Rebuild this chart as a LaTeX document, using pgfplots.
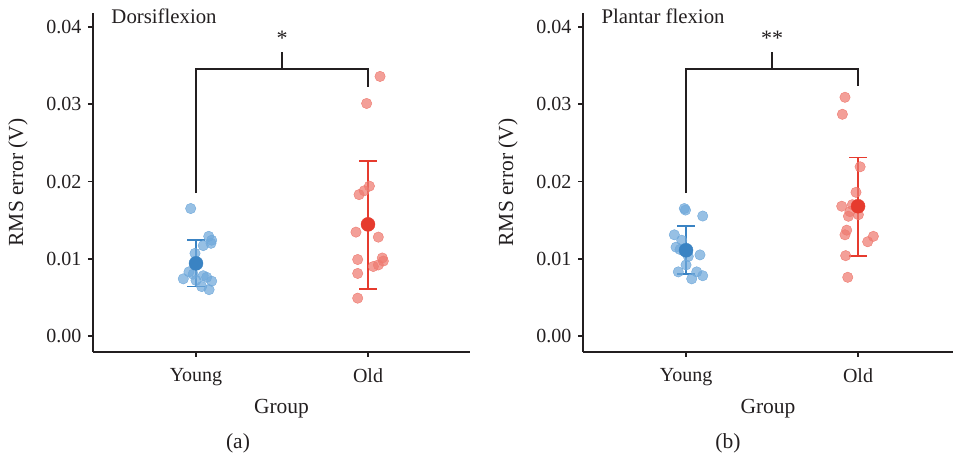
\documentclass[border=0pt]{standalone}
\usepackage{pgfplots}
\pgfplotsset{compat=1.18}
\usepackage{fontspec}
\setmainfont{Liberation Serif}
\definecolor{ylight}{HTML}{6FA8DA}
\definecolor{ydark}{HTML}{3A83C3}
\definecolor{olight}{HTML}{EE7A70}
\definecolor{odark}{HTML}{E63B2E}
\definecolor{txt}{HTML}{231F20}
\pgfplotsset{
  panel/.style={
    scale only axis, width=377pt, height=339pt,
    xmin=0.401, xmax=2.593, ymin=-0.00207, ymax=0.04181,
    axis x line*=bottom, axis y line*=left,
    axis line style={line width=1.8pt, txt},
    every tick/.style={line width=1.8pt, txt},
    tick align=outside, major tick length=5pt,
    xtick={1,2}, xticklabels={Young,Old},
    ytick={0,0.01,0.02,0.03,0.04},
    yticklabel style={/pgf/number format/fixed, /pgf/number format/fixed zerofill, /pgf/number format/precision=2, /pgf/number format/assume math mode=true},
    scaled y ticks=false,
    ticklabel style={font=\fontsize{20}{23}\selectfont, text=txt},
    xticklabel style={yshift=-8pt},
    yticklabel style={xshift=-3pt},
    label style={font=\fontsize{21.5}{25}\selectfont, text=txt},
    xlabel={Group}, ylabel={RMS error (V)},
    xlabel style={at={(axis description cs:0.5,0)}, anchor=center, yshift=-57pt},
    ylabel style={yshift=12pt},
    clip=false,
  },
  pts/.style={only marks, mark=*, mark size=5.2pt, mark options={draw=none, fill opacity=0.72}},
  mn/.style={only marks, mark=*, mark size=7pt, mark options={draw=none}},
  eb/.style={line width=1.8pt, no marks},
  br/.style={line width=1.8pt, txt, no marks},
}
\begin{document}
\begin{tikzpicture}[x=1pt,y=1pt]
\useasboundingbox (0,0) rectangle (953,460);
% ---------- panel (a)
\begin{axis}[panel, at={(93pt,108pt)}, anchor=south west]
\addplot[pts, ylight] coordinates {
(0.969,0.0165)(1.074,0.0129)(1.091,0.0124)(1.087,0.0120)(1.042,0.0117)
(0.994,0.0107)(0.959,0.0083)(0.926,0.0074)(1.042,0.0078)(1.062,0.0076)
(1.091,0.0071)(1.000,0.0072)(1.033,0.0064)(1.076,0.0060)(0.983,0.0080)};
\addplot[pts, olight] coordinates {
(2.070,0.0336)(1.992,0.0301)(2.008,0.0194)(1.978,0.0188)(1.948,0.0183)
(1.930,0.01345)(2.060,0.0128)(1.940,0.0099)(2.083,0.0101)(2.089,0.0097)
(2.060,0.0092)(2.031,0.0090)(1.940,0.0081)(1.940,0.0049)};
% error bars
\addplot[eb, ydark] coordinates {(1,0.0064)(1,0.0124)};
\addplot[eb, ydark] coordinates {(0.948,0.0124)(1.052,0.0124)};
\addplot[eb, ydark] coordinates {(0.948,0.0064)(1.052,0.0064)};
\addplot[eb, odark] coordinates {(2,0.0061)(2,0.0227)};
\addplot[eb, odark] coordinates {(1.948,0.0227)(2.052,0.0227)};
\addplot[eb, odark] coordinates {(1.948,0.0061)(2.052,0.0061)};
\addplot[mn, ydark] coordinates {(1,0.0094)};
\addplot[mn, odark] coordinates {(2,0.01445)};
% bracket
\addplot[br] coordinates {(1,0.0185)(1,0.03454)(2,0.03454)(2,0.0322)};
\addplot[br] coordinates {(1.5,0.03454)(1.5,0.0367)};
\node[font=\fontsize{22}{25}\selectfont, text=txt] at (axis cs:1.5,0.0385) {*};
\node[font=\fontsize{20.8}{24}\selectfont, text=txt, anchor=base west] at (axis cs:0.488,0.0404) {Dorsiflexion};
\end{axis}
% ---------- panel (b)
\begin{axis}[panel, width=370pt, xmax=2.552, at={(583pt,108pt)}, anchor=south west]
\addplot[pts, ylight] coordinates {
(0.990,0.0165)(0.997,0.0163)(1.097,0.01553)(0.932,0.0131)(0.975,0.0124)
(0.965,0.0112)(1.013,0.0103)(1.081,0.0105)(1.000,0.0092)(0.955,0.0083)
(1.062,0.0083)(1.097,0.0078)(1.033,0.0074)(0.942,0.0115)};
\addplot[pts, olight] coordinates {
(1.924,0.0309)(1.909,0.0287)(2.012,0.0219)(1.988,0.0186)(1.905,0.0168)
(1.967,0.0170)(1.953,0.0161)(2.002,0.0157)(1.944,0.0155)(1.934,0.0137)
(1.924,0.0131)(2.089,0.0129)(2.056,0.0122)(1.928,0.0104)(1.940,0.0076)};
\addplot[eb, ydark] coordinates {(1,0.0080)(1,0.01427)};
\addplot[eb, ydark] coordinates {(0.948,0.01427)(1.052,0.01427)};
\addplot[eb, ydark] coordinates {(0.948,0.0080)(1.052,0.0080)};
\addplot[eb, odark] coordinates {(2,0.0104)(2,0.0231)};
\addplot[eb, odark] coordinates {(1.948,0.0231)(2.052,0.0231)};
\addplot[eb, odark] coordinates {(1.948,0.0104)(2.052,0.0104)};
\addplot[mn, ydark] coordinates {(1,0.0111)};
\addplot[mn, odark] coordinates {(2,0.0168)};
\addplot[br] coordinates {(1,0.0185)(1,0.03454)(2,0.03454)(2,0.0324)};
\addplot[br] coordinates {(1.5,0.03454)(1.5,0.0367)};
\node[font=\fontsize{22}{25}\selectfont, text=txt] at (axis cs:1.5,0.0385) {**};
\node[font=\fontsize{20.8}{24}\selectfont, text=txt, anchor=base west] at (axis cs:0.488,0.0404) {Plantar flexion};
\end{axis}
\node[font=\fontsize{21.5}{25}\selectfont, text=txt] at (238,17) {(a)};
\node[font=\fontsize{21.5}{25}\selectfont, text=txt] at (728,17) {(b)};
\end{tikzpicture}
\end{document}
